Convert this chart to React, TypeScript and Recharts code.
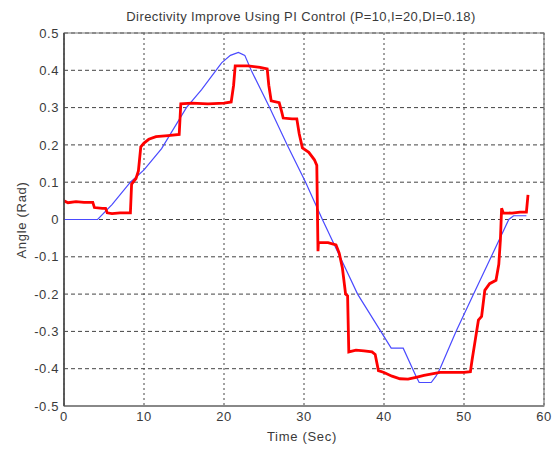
import { CartesianGrid, Line, LineChart, ReferenceArea, XAxis, YAxis } from "recharts";

// reference trajectory (blue)
const refTime = [
  0, 4.2, 6, 8.3, 10, 12.2, 15.3, 17.2, 19, 19.7, 20.8, 21.8, 22.6, 23.4, 25.7, 27.9,
  30.2, 32.3, 34.5, 36.7, 39.6, 40.9, 42.4, 44, 44.4, 45.9, 46.5, 47, 49, 51.2, 53.4,
  55.6, 56.2, 57.8,
];
const refAngle = [
  0, 0, 0.04, 0.1, 0.133, 0.19, 0.3, 0.348, 0.4, 0.42, 0.44, 0.448, 0.44, 0.4, 0.3, 0.2,
  0.1, 0, -0.1, -0.2, -0.3, -0.345, -0.345, -0.42, -0.437, -0.437, -0.42, -0.4, -0.3,
  -0.2, -0.1, 0, 0.01, 0.01,
];

// measured angle with PI control (red)
const pidTime = [
  0, 0.5, 1.5, 2.5, 3.6, 3.8, 4.8, 5.2, 5.4, 6, 7, 8.3, 8.45, 9, 9.3, 9.6, 10, 10.6, 11.5,
  13, 14.4, 14.6, 16, 18, 20, 20.9, 21.2, 21.4, 23, 24.5, 25.4, 25.6, 25.9, 26.9, 27.2,
  27.4, 28.5, 29.1, 29.4, 29.8, 30.6, 31.3, 31.6, 31.75, 31.8, 33, 34, 34.4, 34.8, 35.2,
  35.45, 35.6, 36.5, 37.5, 38.5, 38.9, 39.3, 40, 41, 42, 43, 44, 45, 46, 47, 48.5, 50,
  50.8, 51, 51.4, 51.8, 52.2, 52.6, 53.2, 54, 54.35, 54.55, 54.7, 54.9, 56, 57, 57.8, 58,
];
const pidAngle = [
  0.05, 0.045, 0.048, 0.046, 0.046, 0.032, 0.03, 0.03, 0.018, 0.016, 0.018, 0.018, 0.095,
  0.11, 0.13, 0.195, 0.205, 0.215, 0.222, 0.225, 0.228, 0.31, 0.312, 0.31, 0.312, 0.315,
  0.36, 0.412, 0.412, 0.408, 0.404, 0.36, 0.318, 0.313, 0.29, 0.272, 0.27, 0.27, 0.23,
  0.192, 0.18, 0.16, 0.145, -0.085, -0.062, -0.062, -0.068, -0.09, -0.13, -0.2, -0.205,
  -0.355, -0.35, -0.352, -0.355, -0.362, -0.405, -0.41, -0.42, -0.427, -0.428, -0.423,
  -0.418, -0.414, -0.41, -0.41, -0.41, -0.408, -0.378, -0.324, -0.27, -0.26, -0.19,
  -0.172, -0.163, -0.12, -0.055, 0.03, 0.018, 0.017, 0.02, 0.02, 0.066,
];

const timeTicks = [0, 10, 20, 30, 40, 50, 60];
const angleTicks = [-0.5, -0.4, -0.3, -0.2, -0.1, 0, 0.1, 0.2, 0.3, 0.4, 0.5];

const refData = refTime.map((t, i) => ({ t, angle: refAngle[i] }));
const pidData = pidTime.map((t, i) => ({ t, angle: pidAngle[i] }));

const font = '"Liberation Sans", Arial, sans-serif';
const tickStyle = { fill: "#3a3a3a", fontSize: 13, fontFamily: font, letterSpacing: 0.6 };

export default function App() {
  return (
    <div
      style={{
        position: "absolute",
        left: 0,
        top: 0,
        width: 557,
        height: 450,
        background: "#fff",
        fontFamily: font,
        color: "#3a3a3a",
      }}
    >
      <div
        style={{
          position: "absolute",
          top: 9,
          left: 0,
          width: 602,
          textAlign: "center",
          fontSize: 13,
          letterSpacing: 0.4,
        }}
      >
        Directivity Improve Using PI Control (P=10,I=20,DI=0.18)
      </div>
      <div
        style={{
          position: "absolute",
          top: 429,
          left: 0,
          width: 604,
          textAlign: "center",
          fontSize: 13,
          letterSpacing: 0.7,
        }}
      >
        Time (Sec)
      </div>
      <div
        style={{
          position: "absolute",
          left: 21,
          top: 220,
          fontSize: 13,
          letterSpacing: 0.7,
          whiteSpace: "nowrap",
          transform: "translate(-50%, -50%) rotate(-90deg)",
        }}
      >
        Angle (Rad)
      </div>
      <LineChart
        width={557}
        height={450}
        margin={{ top: 33, right: 13, bottom: 14, left: 0 }}
      >
        <CartesianGrid stroke="#444" strokeDasharray="4 3" vertical={false} />
        <CartesianGrid stroke="#444" strokeDasharray="2 3" horizontal={false} />
        <XAxis
          type="number"
          dataKey="t"
          domain={[0, 60]}
          ticks={timeTicks}
          allowDataOverflow
          height={30}
          tickSize={0}
          tickMargin={6}
          stroke="#888"
          strokeWidth={2}
          tick={tickStyle}
        />
        <YAxis
          type="number"
          dataKey="angle"
          domain={[-0.5, 0.5]}
          ticks={angleTicks}
          allowDataOverflow
          width={64}
          tickSize={0}
          tickMargin={5}
          stroke="#444"
          strokeWidth={1.5}
          tick={tickStyle}
          tickFormatter={(v: number) => String(v)}
        />
        <ReferenceArea
          x1={0}
          x2={60}
          y1={-0.5}
          y2={0.5}
          fill="none"
          stroke="#777"
          strokeWidth={1.2}
        />
        <Line
          data={refData}
          dataKey="angle"
          type="linear"
          stroke="#4a4aff"
          strokeWidth={1.2}
          dot={false}
          isAnimationActive={false}
        />
        <Line
          data={pidData}
          dataKey="angle"
          type="linear"
          stroke="#ff0000"
          strokeWidth={2.8}
          dot={false}
          isAnimationActive={false}
        />
      </LineChart>
    </div>
  );
}
